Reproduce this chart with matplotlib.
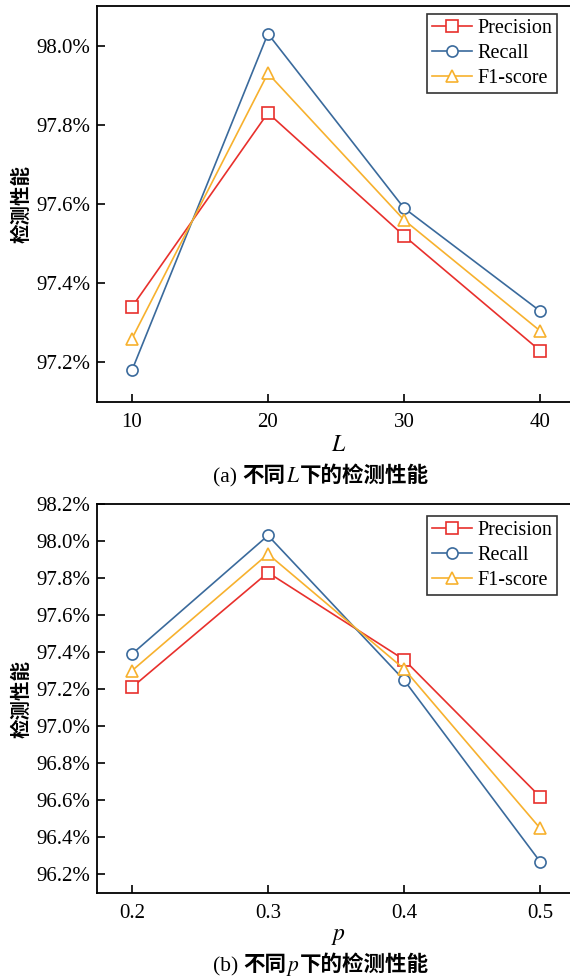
import numpy as np
import matplotlib
matplotlib.use('Agg')
import matplotlib.pyplot as plt
from matplotlib.ticker import FuncFormatter, FixedLocator

plt.rcParams['font.family'] = ['Liberation Serif', 'Noto Sans CJK SC']
plt.rcParams['mathtext.fontset'] = 'stix'

# data
L_vals = [10, 20, 30, 40]
L_precision = [97.34, 97.83, 97.52, 97.23]
L_recall = [97.18, 98.03, 97.59, 97.33]
L_f1 = [97.26, 97.93, 97.56, 97.28]

p_vals = [0.2, 0.3, 0.4, 0.5]
p_precision = [97.21, 97.83, 97.36, 96.62]
p_recall = [97.39, 98.03, 97.25, 96.27]
p_f1 = [97.30, 97.93, 97.31, 96.45]

series_names = ['Precision', 'Recall', 'F1-score']
colors = ['#e8302c', '#3a6a9c', '#f7b12e']
markers = ['s', 'o', '^']

L_yticks = [97.2, 97.4, 97.6, 97.8, 98.0]
p_yticks = [96.2, 96.4, 96.6, 96.8, 97.0, 97.2, 97.4, 97.6, 97.8, 98.0, 98.2]

W, H = 570, 977
RIGHT = 580   # right spine sits outside the picture (cropped in the original)
fig = plt.figure(figsize=(W / 100, H / 100), dpi=100)
ax1 = fig.add_axes([97 / W, 1 - 402 / H, (RIGHT - 97) / W, (402 - 6) / H])
ax2 = fig.add_axes([97 / W, 1 - 893 / H, (RIGHT - 97) / W, (893 - 504) / H])


def draw(ax, xs, ys_list, xlim, ylim, yticks):
    for ys, name, c, m in zip(ys_list, series_names, colors, markers):
        ax.plot(xs, ys, color=c, marker=m, markersize=8, markerfacecolor='white',
                markeredgewidth=1.2, linewidth=1.2, label=name)
    ax.set_xlim(*xlim)
    ax.set_ylim(*ylim)
    ax.xaxis.set_major_locator(FixedLocator(xs))
    ax.yaxis.set_major_locator(FixedLocator(yticks))
    ax.yaxis.set_major_formatter(FuncFormatter(lambda v, pos: '%.1f%%' % v))
    ax.tick_params(direction='in', length=6, width=1.2, labelsize=15, pad=5)
    ax.tick_params(axis='x', pad=8)
    for sp in ax.spines.values():
        sp.set_linewidth(1.3)
    ax.set_ylabel('检测性能', family=['Noto Sans CJK SC'], fontsize=14, weight='bold')
    ax.yaxis.set_label_coords((31 - 97) / (RIGHT - 97), 0.5)
    leg = ax.legend(loc='upper right', fontsize=14.5, frameon=True, fancybox=False,
                    edgecolor='black', handlelength=2.0, handletextpad=0.25,
                    borderpad=0.25, labelspacing=0.3, borderaxespad=0.0)
    leg.get_frame().set_linewidth(1.2)
    return leg


leg1 = draw(ax1, L_vals, [L_precision, L_recall, L_f1], (7.43, 42.95), (97.1, 98.1), L_yticks)
leg2 = draw(ax2, p_vals, [p_precision, p_recall, p_f1], (0.1743, 0.5294), (96.1, 98.2), p_yticks)
leg1.set_bbox_to_anchor((557 / W, 1 - 14 / H), transform=fig.transFigure)
leg2.set_bbox_to_anchor((557 / W, 1 - 516 / H), transform=fig.transFigure)
ax1.set_xticklabels(['10', '20', '30', '40'])
ax2.set_xticklabels(['0.2', '0.3', '0.4', '0.5'])

ax1.set_xlabel('$L$', fontsize=17, labelpad=2)
ax2.set_xlabel('$p$', fontsize=17, labelpad=2)


def caption(pieces, y):
    # pieces laid out left to right, centred under the plot
    renderer = fig.canvas.get_renderer()
    objs = []
    for s, kw in pieces:
        objs.append(fig.text(0, y, s, fontsize=15.5, va='baseline', **kw))
    widths = [o.get_window_extent(renderer).width for o in objs]
    x = 321 - sum(widths) / 2
    for o, w in zip(objs, widths):
        o.set_x(x / W)
        x += w


cjk = {'family': ['Noto Sans CJK SC'], 'weight': 'bold'}
caption([('(a) ', {}), ('不同', cjk), ('$L$', {}), ('下的检测性能', cjk)], 1 - 482 / H)
caption([('(b) ', {}), ('不同', cjk), ('$p$', {}), ('下的检测性能', cjk)], 1 - 971 / H)

fig.savefig('out.png', dpi=100)
